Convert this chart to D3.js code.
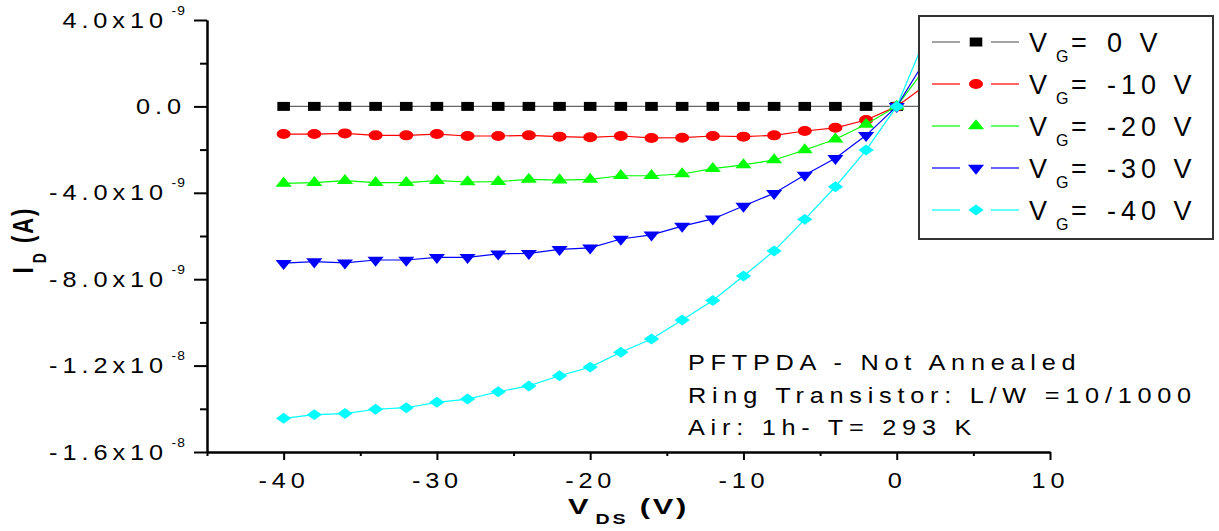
<!DOCTYPE html>
<html>
<head>
<meta charset="utf-8">
<script src="https://cdn.jsdelivr.net/npm/d3@7"></script>
<style>
  body { margin: 0; background: #fff; }
  svg { display: block; font-family: "Liberation Sans", Arial, sans-serif; }
</style>
</head>
<body>
<script>
var w = 1219,
  h = 531;

// drain-source voltage (V)
var vds = [-40, -38, -36, -34, -32, -30, -28, -26, -24, -22, -20, -18, -16, -14, -12, -10, -8, -6, -4, -2, 0, 2];

// drain current, in units of 1e-9 A
var idVg0 = [0, 0, 0, 0, 0, 0, 0, 0, 0, 0, 0, 0, 0, 0, 0, 0, 0, 0, 0, 0, 0, 0];
var idVg10 = [-1.28, -1.28, -1.25, -1.34, -1.34, -1.28, -1.37, -1.37, -1.34, -1.40, -1.43, -1.37, -1.46, -1.45, -1.37, -1.40, -1.34, -1.14, -0.99, -0.63, 0, 1.04];
var idVg20 = [-3.56, -3.53, -3.44, -3.53, -3.53, -3.44, -3.50, -3.48, -3.38, -3.41, -3.38, -3.21, -3.21, -3.13, -2.88, -2.71, -2.48, -2.02, -1.52, -0.83, 0, 1.9];
var idVg30 = [-7.26, -7.19, -7.24, -7.11, -7.11, -6.99, -6.99, -6.83, -6.80, -6.62, -6.55, -6.14, -5.95, -5.54, -5.21, -4.61, -4.02, -3.18, -2.40, -1.34, 0, 2.3];
var idVg40 = [-14.44, -14.27, -14.22, -14.02, -13.95, -13.70, -13.55, -13.21, -12.94, -12.47, -12.07, -11.38, -10.77, -9.89, -8.99, -7.85, -6.69, -5.23, -3.72, -2.02, 0, 3.4];

var gateLabels = ['0 V', '-10 V', '-20 V', '-30 V', '-40 V'];
var seriesColors = ['#000000', '#ff0000', '#00ff00', '#0000ff', '#00ffff'];
var lineColors = ['#666666', '#ff0000', '#00ff00', '#0000ff', '#00ffff'];
var markers = ['square', 'circle', 'triangle', 'triangleDown', 'diamond'];

var xMajor = [-40, -30, -20, -10, 0, 10],
  xMinor = [-45, -35, -25, -15, -5, 5];
var yMajor = [-16, -12, -8, -4, 0, 4],
  yMinor = [-14, -10, -6, -2, 2];

var notes = ['PFTPDA - Not Annealed', 'Ring Transistor: L/W =10/1000', 'Air: 1h- T= 293 K'];

var series = [idVg0, idVg10, idVg20, idVg30, idVg40].map(function (vals, i) {
  return {
    label: gateLabels[i],
    color: seriesColors[i],
    line: lineColors[i],
    marker: markers[i],
    points: vals.map(function (v, j) { return { x: vds[j], y: v }; })
  };
});

var svg = d3.select('body').append('svg')
  .attr('width', w)
  .attr('height', h);

svg.append('rect').attr('width', w).attr('height', h).attr('fill', '#fff');

var x = d3.scaleLinear().domain([-45, 10]).range([207, 1050]);
var y = d3.scaleLinear().domain([-16, 4]).range([452, 20]);

var kx = 1.15; // horizontal stretch of the labels

function hyphen(s) { return s.replace(/\u2212/g, '-'); }

function markerPath(type) {
  if (type === 'square') return d3.symbol(d3.symbolSquare, 81)();
  if (type === 'circle') return d3.symbol(d3.symbolCircle, 78.5)();
  if (type === 'diamond') return d3.symbol(d3.symbolSquare, 60)();
  return d3.symbol(d3.symbolTriangle, 58)();
}
function markerTransform(type, px, py) {
  var t = 'translate(' + px + ',' + py + ') ';
  if (type === 'triangleDown') return t + 'scale(1.4,-1)';
  if (type === 'diamond') return t + 'scale(1.4,1) rotate(45)';
  return t + 'scale(1.4,1)';
}

// series lines and markers
var line = d3.line()
  .x(function (d) { return x(d.x); })
  .y(function (d) { return y(d.y); });

var gSeries = svg.selectAll('g.series')
  .data(series)
  .enter()
  .append('g')
  .attr('class', 'series');

gSeries.append('path')
  .attr('fill', 'none')
  .attr('stroke', function (d) { return d.line; })
  .attr('stroke-width', 1.2)
  .attr('d', function (d) { return line(d.points); });

gSeries.each(function (s) {
  d3.select(this).selectAll('path.mk')
    .data(s.points)
    .enter()
    .append('path')
    .attr('class', 'mk')
    .attr('d', markerPath(s.marker))
    .attr('transform', function (d) { return markerTransform(s.marker, x(d.x), y(d.y)); })
    .attr('fill', s.color);
});

// axes
function styleAxis(g) {
  g.selectAll('path, line').attr('stroke', '#000').attr('stroke-width', 2);
}

svg.append('g')
  .attr('transform', 'translate(' + x(-45) + ',0)')
  .call(d3.axisLeft(y).tickValues(yMinor).tickSize(7).tickSizeOuter(0).tickFormat(''))
  .call(styleAxis);

var yAxis = svg.append('g')
  .attr('transform', 'translate(' + x(-45) + ',0)')
  .call(d3.axisLeft(y).tickValues(yMajor).tickSize(13).tickSizeOuter(0).tickPadding(8))
  .call(styleAxis);

yAxis.selectAll('text')
  .attr('font-size', 22)
  .attr('fill', '#000')
  .style('letter-spacing', '4.3px')
  .each(function (d) {
    var t = d3.select(this);
    var xv = +t.attr('x');
    t.text(null).attr('x', xv / kx).attr('transform', 'scale(' + kx + ',1)');
    if (d === 0) {
      t.append('tspan').text('0.0');
    } else {
      var parts = hyphen(d3.format('.1e')(d * 1e-9)).split('e');
      t.append('tspan').text(parts[0] + 'x10');
      t.append('tspan').attr('font-size', 12).attr('dy', '-13').attr('dx', 3).style('letter-spacing', '1px').text(parts[1]);
    }
  });

svg.append('g')
  .attr('transform', 'translate(0,' + y(-16) + ')')
  .call(d3.axisBottom(x).tickValues(xMinor).tickSize(4).tickSizeOuter(0).tickFormat(''))
  .call(styleAxis);

var xAxis = svg.append('g')
  .attr('transform', 'translate(0,' + y(-16) + ')')
  .call(d3.axisBottom(x).tickValues(xMajor).tickSize(8).tickSizeOuter(0).tickPadding(12))
  .call(styleAxis);

xAxis.selectAll('text')
  .attr('font-size', 22)
  .attr('fill', '#000')
  .style('letter-spacing', '4.2px')
  .attr('transform', 'scale(' + kx + ',1)')
  .text(function (d) { return hyphen(d3.format('d')(d)); });

// axis titles
var xTitle = svg.append('text')
  .attr('transform', 'translate(' + ((x(-45) + x(10)) / 2) + ',514) scale(1.4,1)')
  .attr('text-anchor', 'middle')
  .attr('font-size', 22)
  .attr('font-weight', 'bold')
  .style('letter-spacing', '2px');
xTitle.append('tspan').text('V');
xTitle.append('tspan').attr('font-size', 14).attr('dy', 10).attr('dx', 3).text('DS');
xTitle.append('tspan').attr('dy', -10).text(' (V)');

var yTitle = svg.append('text')
  .attr('transform', 'translate(33,' + ((y(4) + y(-16)) / 2 + 4) + ') rotate(-90) scale(1,1.3)')
  .attr('text-anchor', 'middle')
  .attr('font-size', 22)
  .attr('font-weight', 'bold')
  .style('letter-spacing', '2px');
yTitle.append('tspan').text('I');
yTitle.append('tspan').attr('font-size', 14).attr('dy', 10).attr('dx', 2).text('D');
yTitle.append('tspan').attr('dy', -10).text(' (A)');

// annotation
svg.append('g')
  .selectAll('text')
  .data(notes)
  .enter()
  .append('text')
  .attr('transform', function (d, i) { return 'translate(688,' + (370 + i * 32.5) + ') scale(' + kx + ',1)'; })
  .attr('font-size', 22)
  .style('letter-spacing', '5px')
  .text(function (d) { return d; });

// legend
var legend = svg.append('g').attr('transform', 'translate(919,16)');
legend.append('rect')
  .attr('width', 294)
  .attr('height', 223)
  .attr('fill', '#fff')
  .attr('stroke', '#333')
  .attr('stroke-width', 2);

var items = legend.selectAll('g.item')
  .data(series)
  .enter()
  .append('g')
  .attr('class', 'item')
  .attr('transform', function (d, i) { return 'translate(0,' + (26 + i * 42) + ')'; });

items.append('line').attr('x1', 13).attr('x2', 41).attr('stroke', function (d) { return d.line; }).attr('stroke-width', 1.2);
items.append('line').attr('x1', 72).attr('x2', 100).attr('stroke', function (d) { return d.line; }).attr('stroke-width', 1.2);
items.append('path')
  .attr('d', function (d) { return markerPath(d.marker); })
  .attr('transform', function (d) { return markerTransform(d.marker, 57, 0); })
  .attr('fill', function (d) { return d.color; });

items.append('text').attr('x', 110).attr('y', 10).attr('font-size', 27).text('V');
items.append('text').attr('x', 137).attr('y', 20).attr('font-size', 16).text('G');
items.append('text').attr('x', 152).attr('y', 10).attr('font-size', 27).text('=');
items.append('text').attr('x', 188).attr('y', 10).attr('font-size', 27)
  .style('letter-spacing', '5px')
  .text(function (d) { return d.label; });
</script>
</body>
</html>
